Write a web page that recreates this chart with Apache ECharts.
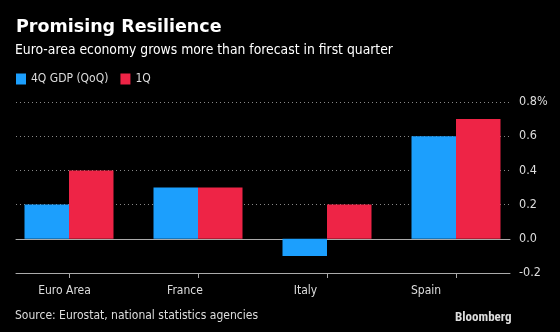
<!DOCTYPE html>
<html>
<head>
<meta charset="utf-8">
<script src="https://cdn.jsdelivr.net/npm/echarts@6/dist/echarts.min.js"></script>
<style>
  html, body { margin: 0; padding: 0; background: #000; }
  #chart { width: 560px; height: 332px; }
</style>
</head>
<body>
<div id="chart"></div>
<script>
// GDP growth, quarter on quarter, percent
const categories = ['Euro Area', 'France', 'Italy', 'Spain'];
const gdp4Q = [0.2, 0.3, -0.1, 0.6];
const gdp1Q = [0.4, 0.3, 0.2, 0.7];
const yTicks = [-0.2, 0.0, 0.2, 0.4, 0.6, 0.8];
const seriesNames = ['4Q GDP (QoQ)', '1Q'];

const BLUE = '#1c9ffd';
const RED = '#ee2446';
const FONT = '"DejaVu Sans Condensed", "DejaVu Sans", sans-serif';

const yMin = yTicks[0], yMax = yTicks[yTicks.length - 1];
const plotTop = 102, plotBottom = 59;

const chart = echarts.init(document.getElementById('chart'), null, { renderer: 'canvas' });

chart.setOption({
  backgroundColor: '#000',
  animation: false,
  title: [
    {
      text: 'Promising Resilience', left: 11, top: 13,
      textStyle: { color: '#fff', fontSize: 17.5, fontWeight: 'bold', fontFamily: '"DejaVu Sans", sans-serif' }
    },
    {
      text: 'Euro-area economy grows more than forecast in first quarter', left: 10, top: 38,
      textStyle: { color: '#fff', fontSize: 13.8, fontWeight: 'normal', fontFamily: FONT }
    },
    {
      text: 'Source: Eurostat, national statistics agencies', left: 10, top: 305,
      textStyle: { color: '#ddd', fontSize: 12, fontWeight: 'normal', fontFamily: FONT }
    },
    {
      text: 'Bloomberg', left: 450, top: 306,
      textStyle: { color: '#ddd', fontSize: 13, fontWeight: 'bold', fontFamily: '"Roboto Condensed", "Liberation Sans", sans-serif' }
    }
  ],
  legend: {
    data: seriesNames, left: 11, top: 68,
    itemWidth: 10, itemHeight: 11, itemGap: 12, icon: 'rect',
    textStyle: { color: '#ddd', fontSize: 12, fontFamily: FONT }
  },
  grid: [
    // frame: gridlines, zero line, baseline, value labels
    { left: 16, right: 50, top: plotTop, bottom: plotBottom, z: 0 },
    // bars
    { left: 4.5, right: 39.5, top: plotTop, bottom: plotBottom, z: 5 },
    // category labels
    { left: 4.25, right: 73.75, top: plotTop, bottom: plotBottom, z: 5 }
  ],
  xAxis: [
    {
      gridIndex: 0, type: 'value', min: 0, max: 1, position: 'bottom', z: 1,
      axisLine: { show: true, onZero: false, lineStyle: { color: '#aaa', width: 1 } },
      axisTick: { show: false }, axisLabel: { show: false }, splitLine: { show: false }
    },
    {
      gridIndex: 0, type: 'value', min: 0, max: 1, position: 'top', z: 1,
      axisLine: { show: true, onZero: true, lineStyle: { color: '#aaa', width: 1 } },
      axisTick: { show: false }, axisLabel: { show: false }, splitLine: { show: false }
    },
    {
      gridIndex: 1, type: 'category', data: categories, position: 'bottom', z: 1,
      axisLine: { show: false, onZero: false },
      axisTick: { show: true, alignWithLabel: true, length: 5, lineStyle: { color: '#aaa' } },
      axisLabel: { show: false }, splitLine: { show: false }
    },
    {
      gridIndex: 2, type: 'category', data: categories, position: 'bottom', z: 1,
      axisLine: { show: false, onZero: false }, axisTick: { show: false },
      axisLabel: { show: true, color: '#ddd', fontSize: 12, fontFamily: FONT, margin: 12 },
      splitLine: { show: false }
    }
  ],
  yAxis: [
    {
      gridIndex: 0, type: 'value', min: yMin, max: yMax, interval: 0.2, position: 'right', z: 0,
      axisLine: { show: false }, axisTick: { show: false },
      axisLabel: {
        color: '#ddd', fontSize: 12.5, fontFamily: FONT, margin: 9,
        formatter: v => {
          const s = v.toFixed(1);
          return Math.abs(v - yMax) < 1e-9 ? s + '%' : s;
        }
      },
      splitLine: { show: true, lineStyle: { color: '#888', type: [1, 3], width: 1 } }
    },
    {
      gridIndex: 1, type: 'value', min: yMin, max: yMax, interval: 0.2, show: false
    },
    {
      gridIndex: 2, type: 'value', min: yMin, max: yMax, interval: 0.2, show: false
    }
  ],
  series: [
    {
      name: seriesNames[0], type: 'bar', xAxisIndex: 2, yAxisIndex: 1,
      data: gdp4Q, barWidth: 44.5, barGap: '0%',
      itemStyle: { color: BLUE }, z: 10
    },
    {
      name: seriesNames[1], type: 'bar', xAxisIndex: 2, yAxisIndex: 1,
      data: gdp1Q, barWidth: 44.5, barGap: '0%',
      itemStyle: { color: RED }, z: 10
    }
  ]
});
</script>
</body>
</html>
